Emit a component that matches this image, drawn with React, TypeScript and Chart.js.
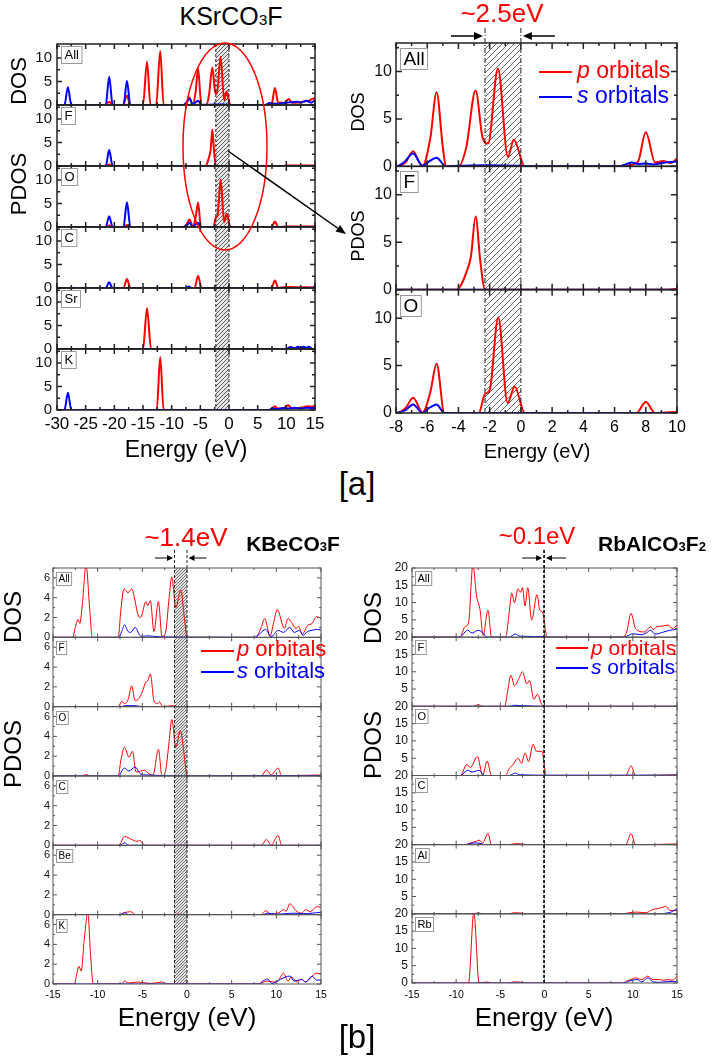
import React, { useEffect, useRef } from 'react';
import { Chart, registerables } from 'chart.js';
Chart.register(...registerables);

type Pt = [number, number];

const FONT = '"Liberation Sans", Arial, Helvetica, sans-serif';
const RED = '#ff0000';
const BLUE = '#0000ff';

// ---------- KSrCO3F (energy eV, DOS) ----------
const ksrAllP: Pt[] = [[-30,0],[-21.6,0],[-20.9,0.7],[-20.3,0],[-18.5,0],[-17.8,2.0],[-17.2,0],[-15.0,0],[-14.3,9.2],[-13.7,0],[-12.7,0],[-12.0,11.5],[-11.4,0],[-8.0,0],[-7.4,0.4],[-6.9,1.6],[-6.5,0.4],[-6.3,0.05],[-5.8,3.0],[-5.4,7.8],[-5.0,2.0],[-4.8,0],[-4.0,0],[-3.5,2.0],[-2.9,8.0],[-2.45,3.0],[-2.1,2.4],[-1.47,10.3],[-0.83,1.0],[-0.45,2.8],[0.25,0],[6.2,0],[6.8,0.1],[7.5,0.5],[8.0,3.6],[8.6,0.4],[9.1,0.55],[9.6,0.35],[10.4,1.3],[11.0,0.5],[11.8,0.5],[12.5,0.6],[13.3,0.8],[14.0,0.9],[14.5,1.3],[15,1.4]];
const ksrAllS: Pt[] = [[-30,0],[-28.7,0],[-28.1,3.8],[-27.5,0],[-21.5,0],[-20.9,6.0],[-20.3,0],[-18.4,0],[-17.8,5.1],[-17.2,0],[-8,0],[-7.5,0.4],[-6.9,1.35],[-6.3,0.05],[-5.9,0.5],[-5.4,0.9],[-4.8,0],[-4,0.05],[-2.3,0.12],[-1.5,0.1],[0,0.05],[0.3,0],[6.3,0],[7.1,0.4],[7.5,0.25],[8,0.3],[8.5,0.2],[9,0.35],[10,0.5],[11,0.6],[12,0.7],[12.5,0.5],[13.5,0.9],[14.3,0.5],[15,1.0]];
const ksrFP: Pt[] = [[-30,0],[-21.5,0],[-20.9,0.3],[-20.3,0],[-4.1,0],[-3.8,0.6],[-3.5,1.8],[-3.2,3.5],[-2.9,7.7],[-2.6,3.0],[-2.3,0],[9.5,0],[10,0.1],[15,0.1]];
const ksrFS: Pt[] = [[-30,0],[-21.5,0],[-20.9,3.4],[-20.3,0],[15,0]];
const ksrOP: Pt[] = [[-30,0],[-21.5,0],[-20.9,0.3],[-20.3,0],[-18.4,0],[-17.8,0.4],[-17.2,0],[-8,0],[-7.4,0.5],[-6.9,1.6],[-6.3,0.05],[-5.8,2.2],[-5.4,5.2],[-4.9,0],[-2.7,0],[-2.3,2.0],[-2.0,2.4],[-1.45,10.1],[-0.85,1.05],[-0.4,2.8],[0.25,0],[7.4,0],[8.0,1.15],[8.6,0],[10,0.1],[15,0.1]];
const ksrOS: Pt[] = [[-30,0],[-21.5,0],[-20.9,2.3],[-20.3,0],[-18.4,0],[-17.8,5.3],[-17.2,0],[-8,0],[-7.4,0.3],[-6.9,0.9],[-6.3,0],[-5.9,0.5],[-5.4,0.9],[-4.9,0],[15,0]];
const ksrCP: Pt[] = [[-30,0],[-18.4,0],[-17.8,1.9],[-17.2,0],[-6,0],[-5.4,2.6],[-4.8,0],[7.4,0],[8.0,1.6],[8.6,0],[10,0.2],[15,0.1]];
const ksrCS: Pt[] = [[-30,0],[-21.5,0],[-20.9,1.2],[-20.3,0],[-7.5,0],[-7,0.3],[-6.5,0],[14.5,0],[15,0.4]];
const ksrSrP: Pt[] = [[-30,0],[-15,0],[-14.3,8.7],[-13.6,0],[10.5,0],[11,0.3],[11.5,0],[12,0],[12.5,0.3],[13,0],[15,0]];
const ksrSrS: Pt[] = [[-30,0],[10,0],[10.7,0.4],[11.5,0.2],[12,0.5],[12.5,0.2],[13,0.5],[13.5,0.3],[14,0.5],[14.5,0],[15,0]];
const ksrKP: Pt[] = [[-30,0],[-12.6,0],[-12.0,11.3],[-11.4,0],[7,0],[7.5,0.3],[8,0.8],[8.5,0.3],[9.5,0.4],[10.3,1.0],[11,0.3],[12,0.4],[13,0.6],[13.8,0.8],[14.5,0.7],[15,1.0]];
const ksrKS: Pt[] = [[-30,0],[-28.7,0],[-28.1,3.7],[-27.5,0],[7,0],[7.5,0.3],[8.5,0.2],[9.5,0.4],[10.5,0.3],[11.5,0.5],[12.5,0.3],[13.5,0.5],[15,0.4]];

// ---------- KBeCO3F ----------
const kbeAllP: Pt[] = [[-15,0],[-12.8,0],[-12.5,1.0],[-12.2,1.8],[-12.0,1.4],[-11.7,3.5],[-11.3,7.3],[-10.9,3.0],[-10.6,0],[-7.7,0],[-7.4,2.8],[-7.05,4.9],[-6.6,4.5],[-6.2,4.9],[-5.8,3.6],[-5.5,2.3],[-5.2,2.0],[-4.6,3.6],[-4.4,3.2],[-4.1,3.7],[-3.7,0.6],[-3.2,3.6],[-2.8,0.1],[-2.4,0.5],[-2.0,4.0],[-1.7,6.1],[-1.25,3.0],[-0.7,4.8],[-0.3,2.0],[0,0],[7.7,0],[8.3,1.0],[8.7,1.9],[9.3,0.1],[9.7,1.5],[10.1,2.8],[10.9,0.9],[11.3,1.9],[11.7,1.5],[12.2,0.9],[12.5,1.1],[12.9,0.3],[13.5,1.2],[14.0,1.4],[14.5,2.1],[15,1.9]];
const kbeAllS: Pt[] = [[-15,0],[-7.7,0],[-7.3,0.6],[-7.0,1.25],[-6.6,0.6],[-6.3,0.5],[-5.8,1.0],[-5.3,0.2],[-5,0.1],[-4.5,0.15],[-3,0.05],[0,0.02],[7.5,0],[8.2,0.4],[8.8,0.8],[9.4,0.05],[10.2,0.7],[10.8,0.5],[11.5,1.0],[12.0,0.5],[12.6,0.7],[13.0,0.2],[13.5,0.6],[14.0,0.7],[14.5,0.8],[15,0.75]];
const kbeFP: Pt[] = [[-15,0],[-7.7,0],[-7.3,0.55],[-7.0,0.3],[-6.6,0.7],[-6.2,2.1],[-5.8,0.6],[-5.4,0.8],[-5.0,1.5],[-4.6,2.5],[-4.4,2.6],[-4.1,3.3],[-3.7,0.6],[-3.3,0.3],[-3.1,0.5],[-2.7,0],[-1.7,0.1],[-1,0],[15,0]];
const kbeFS: Pt[] = [[-15,0],[-7.3,0],[-7,0.1],[-5.8,0.1],[-5,0],[15,0]];
const kbeOP: Pt[] = [[-15,0],[-11.8,0],[-11.3,0.15],[-10.8,0],[-7.7,0],[-7.4,1.6],[-7.0,2.9],[-6.5,1.9],[-6.1,2.5],[-5.7,0.4],[-5.2,0.5],[-4.7,0.6],[-4.4,0.3],[-3.8,0.1],[-3.2,2.7],[-2.8,0.0],[-2.4,0.5],[-2.0,3.5],[-1.7,5.7],[-1.25,2.9],[-0.75,4.6],[-0.3,2.0],[0,0],[8.3,0],[8.9,0.6],[9.4,0.1],[10.2,0.8],[10.6,0],[12,0.05],[15,0.1]];
const kbeOS: Pt[] = [[-15,0],[-7.7,0],[-7.0,0.8],[-6.5,0.5],[-5.8,0.9],[-5.2,0.2],[-4.5,0.1],[-3,0.05],[0,0],[9,0.05],[11,0.05],[15,0.05]];
const kbeCP: Pt[] = [[-15,0],[-7.6,0],[-7.0,0.9],[-6.2,0.6],[-5.6,0.4],[-5.3,0.5],[-4.7,0],[8.3,0],[8.9,0.6],[9.4,0],[10.2,1.0],[10.6,0],[15,0]];
const kbeCS: Pt[] = [[-15,0],[-7.5,0],[-7.0,0.25],[-6.5,0],[15,0]];
const kbeBeP: Pt[] = [[-15,0],[-7.5,0],[-7.0,0.2],[-6.3,0.3],[-5.8,0],[-2,0],[-1,0.05],[0,0],[8.3,0],[8.8,0.4],[9.4,0.05],[10.3,0.2],[10.8,0.5],[11.1,0.35],[11.5,1.1],[12.2,0.4],[12.8,0.15],[13.3,0.5],[13.8,0.3],[14.5,0.8],[15,0.75]];
const kbeBeS: Pt[] = [[-15,0],[-7.5,0],[-7.0,0.2],[-6.5,0],[8.5,0],[9,0.15],[10,0.05],[11,0.1],[12,0.15],[13,0.1],[14,0.15],[15,0.25]];
const kbeKP: Pt[] = [[-15,0],[-12.6,0],[-12.3,1.2],[-12.1,1.8],[-11.85,1.3],[-11.5,4.5],[-11.1,7.2],[-10.8,3.0],[-10.5,0],[-7.3,0],[-7,0.3],[-6.6,0.1],[-5.5,0.2],[-4,0.05],[-2.8,0.2],[-2.4,0],[8,0],[9,0.3],[9.8,0.2],[10.2,0.3],[10.8,1.1],[11.3,0.3],[11.7,0.7],[12.3,0.2],[12.8,0.5],[13.3,0.2],[13.8,0.6],[14.5,1.1],[15,1.0]];
const kbeKS: Pt[] = [[-15,0],[8,0],[8.5,0.3],[9,0.5],[9.5,0.05],[10.5,0.5],[11.5,0.8],[12,0.3],[12.8,0.45],[13.3,0.2],[14,0.8],[14.5,0.4],[15,0.4]];

// ---------- RbAlCO3F2 ----------
const rbaAllP: Pt[] = [[-15,0],[-9.6,0],[-9.0,3.0],[-8.6,4.2],[-8.1,21],[-7.7,12],[-7.3,8],[-6.95,0.5],[-6.4,7.8],[-6.0,0],[-4.4,0],[-4.0,7],[-3.7,12.7],[-3.4,10],[-3.0,14],[-2.7,13],[-2.5,14.3],[-2.2,9],[-1.9,14.3],[-1.45,5],[-0.85,12.3],[-0.55,8],[-0.2,7],[0.3,0],[8.8,0],[9.3,1.5],[9.8,6.9],[10.3,2.5],[11.3,1.5],[12.0,3.0],[12.3,2.2],[12.7,3.0],[13.3,3.2],[14.0,3.5],[14.5,2.5],[15,3.5]];
const rbaAllS: Pt[] = [[-15,0],[-9.6,0],[-9.0,1.5],[-8.7,2.0],[-8.2,1.2],[-7.5,2.0],[-7.1,1.5],[-6.5,0],[-4,0],[-3.3,0.9],[-2.8,0.3],[-1,0.2],[0,0.2],[0.3,0],[8.8,0],[9.5,0.5],[10,1.0],[11,0.7],[11.5,1.2],[12,2.0],[12.5,0.9],[13.5,1.5],[14.2,2.0],[15,2.3]];
const rbaFP: Pt[] = [[-15,0],[-8,0],[-7.5,0.5],[-7,0],[-4.5,0],[-4.2,4],[-3.8,9],[-3.4,6],[-2.9,8],[-2.5,10],[-2.0,6.5],[-1.7,7.5],[-1.2,2],[-0.8,3.5],[-0.3,0.5],[0.1,0],[15,0]];
const rbaFS: Pt[] = [[-15,0],[-4,0],[-3.5,0.3],[-2.5,0.2],[0,0],[15,0]];
const rbaOP: Pt[] = [[-15,0],[-9.5,0],[-8.8,3.2],[-8.4,2.3],[-7.6,5.5],[-7.0,0],[-6.5,4.2],[-6.0,0],[-4.4,0],[-4.0,2.0],[-3.6,3.0],[-3.0,5.0],[-2.6,3.5],[-2.2,6.5],[-1.8,4.0],[-1.3,9.0],[-0.9,7.0],[-0.3,7.0],[0.2,0],[9.2,0],[9.8,2.8],[10.3,0],[15,0.2]];
const rbaOS: Pt[] = [[-15,0],[-9.5,0],[-8.7,1.5],[-8.2,1.0],[-7.4,1.5],[-6.8,0],[-4,0],[-3.3,0.7],[-2.8,0.2],[0,0.1],[15,0.1]];
const rbaCP: Pt[] = [[-15,0],[-9,0],[-8.5,0.4],[-7.7,1.0],[-7.4,1.3],[-7.0,0.5],[-6.4,3.2],[-6.0,0],[-4,0],[-3.3,0.3],[-2.5,0.2],[-2,0],[9.2,0],[9.8,3.2],[10.3,0],[15,0.2]];
const rbaCS: Pt[] = [[-15,0],[-9,0],[-8,0.5],[-7.3,0.4],[-6.8,0],[15,0]];
const rbaAlP: Pt[] = [[-15,0],[-8,0],[-7.5,0.3],[-7,0],[-4,0],[-3.5,0.3],[-2.5,0.2],[-2,0],[9,0],[9.5,0.3],[10.5,0.5],[11.5,0.3],[12,1.0],[12.7,1.5],[13.3,1.8],[13.7,2.2],[14.2,1.0],[15,1.0]];
const rbaAlS: Pt[] = [[-15,0],[13,0],[14,0.3],[14.5,0.7],[15,1.5]];
const rbaRbP: Pt[] = [[-15,0],[-8.6,0],[-8.0,20.4],[-7.4,0],[-6.5,0.3],[-6,0],[-4,0],[-3.5,0.3],[-2.5,0.2],[-2,0],[8.8,0],[9.3,0.5],[9.8,1.0],[10.3,1.5],[11,1.0],[11.7,2.0],[12.2,1.0],[13,1.0],[13.5,0.8],[14,1.0],[14.5,0.8],[15,2.0]];
const rbaRbS: Pt[] = [[-15,0],[9,0],[9.5,0.5],[10.5,1.0],[11,0.3],[11.7,1.5],[12.3,0.3],[13,0.2],[14.5,0.5],[15,0.3]];

// band gaps (eV)
const gapKSr: Pt = [-2.3, 0];
const gapKBe: Pt = [-1.4, 0];
const gapRbAl: Pt = [-0.1, 0];

interface Panel { label: string; p: Pt[]; s: Pt[]; }
interface Group {
  id: string;
  canvas: { x: number; y: number; w: number; h: number };
  plot: { l: number; t: number; r: number; b: number };
  yw: number; xh: number;
  xr: { min: number; max: number; step: number; minor: number };
  yr: { max: number; step: number; minor: number };
  panels: Panel[];
  lw: number;
  xFont: number; yFont: number; xPad: number; yPad: number;
  lab: { dx: number; dy: number; font: number; padX: number; h: number };
  gap: Pt;
  dash: number[];
  ext: number;
  arrow: null | { off: number; len: number; pad: number; hl: number; hw: number; lw: number };
  hatch: { sp: number; bg: string | null; col: string };
  frame: string; frameW: number; major: number; minor: number;
  hideZero: boolean;
}

const groups: Group[] = [
  {
    id: 'A', canvas: { x: 0, y: 30, w: 330, h: 412 }, plot: { l: 57, t: 43, r: 315, b: 410 }, yw: 45, xh: 28,
    xr: { min: -30, max: 15, step: 5, minor: 2.5 }, yr: { max: 13, step: 5, minor: 2.5 },
    panels: [
      { label: 'All', p: ksrAllP, s: ksrAllS }, { label: 'F', p: ksrFP, s: ksrFS }, { label: 'O', p: ksrOP, s: ksrOS },
      { label: 'C', p: ksrCP, s: ksrCS }, { label: 'Sr', p: ksrSrP, s: ksrSrS }, { label: 'K', p: ksrKP, s: ksrKS },
    ],
    lw: 2, xFont: 17, yFont: 15, xPad: 4, yPad: 5,
    lab: { dx: 4, dy: 2, font: 13, padX: 3, h: 17 },
    gap: gapKSr, dash: [3, 2], ext: 0, arrow: null,
    hatch: { sp: 4, bg: '#e8e8e8', col: '#333' },
    frame: '#222', frameW: 1.5, major: 5, minor: 3, hideZero: false,
  },
  {
    id: 'B', canvas: { x: 340, y: 20, w: 374, h: 424 }, plot: { l: 396, t: 43, r: 677, b: 413 }, yw: 40, xh: 27,
    xr: { min: -8, max: 10, step: 2, minor: 1 }, yr: { max: 13, step: 5, minor: 2.5 },
    panels: [
      { label: 'All', p: ksrAllP, s: ksrAllS }, { label: 'F', p: ksrFP, s: ksrFS }, { label: 'O', p: ksrOP, s: ksrOS },
    ],
    lw: 2, xFont: 16, yFont: 16, xPad: 5, yPad: 4,
    lab: { dx: 4, dy: 5, font: 19, padX: 3, h: 21 },
    gap: gapKSr, dash: [5, 2, 1, 2], ext: 15, arrow: { off: 7, len: 32, pad: 2, hl: 9, hw: 4, lw: 1.5 },
    hatch: { sp: 6, bg: null, col: '#444' },
    frame: '#222', frameW: 1.5, major: 6, minor: 3, hideZero: false,
  },
  {
    id: 'C', canvas: { x: 0, y: 545, w: 350, h: 461 }, plot: { l: 53, t: 568, r: 321, b: 984 }, yw: 40, xh: 18,
    xr: { min: -15, max: 15, step: 5, minor: 2.5 }, yr: { max: 7, step: 2, minor: 1 },
    panels: [
      { label: 'All', p: kbeAllP, s: kbeAllS }, { label: 'F', p: kbeFP, s: kbeFS }, { label: 'O', p: kbeOP, s: kbeOS },
      { label: 'C', p: kbeCP, s: kbeCS }, { label: 'Be', p: kbeBeP, s: kbeBeS }, { label: 'K', p: kbeKP, s: kbeKS },
    ],
    lw: 1, xFont: 10.5, yFont: 11, xPad: 5, yPad: 3,
    lab: { dx: 3, dy: 4, font: 10, padX: 2, h: 13 },
    gap: gapKBe, dash: [3, 2], ext: 18, arrow: { off: 10, len: 18, pad: 1.5, hl: 6, hw: 3, lw: 1 },
    hatch: { sp: 3, bg: '#e4e4e4', col: '#555' },
    frame: '#555', frameW: 1, major: 4, minor: 2, hideZero: false,
  },
  {
    id: 'D', canvas: { x: 355, y: 545, w: 359, h: 460 }, plot: { l: 412, t: 568, r: 677, b: 983 }, yw: 40, xh: 18,
    xr: { min: -15, max: 15, step: 5, minor: 2.5 }, yr: { max: 20, step: 5, minor: 2.5 },
    panels: [
      { label: 'All', p: rbaAllP, s: rbaAllS }, { label: 'F', p: rbaFP, s: rbaFS }, { label: 'O', p: rbaOP, s: rbaOS },
      { label: 'C', p: rbaCP, s: rbaCS }, { label: 'Al', p: rbaAlP, s: rbaAlS }, { label: 'Rb', p: rbaRbP, s: rbaRbS },
    ],
    lw: 1, xFont: 10.5, yFont: 12, xPad: 6, yPad: 4,
    lab: { dx: 3, dy: 3, font: 11, padX: 2, h: 14 },
    gap: gapRbAl, dash: [3, 2], ext: 18, arrow: { off: 10, len: 20, pad: 1.5, hl: 6, hw: 3, lw: 1 },
    hatch: { sp: 3, bg: '#e4e4e4', col: '#555' },
    frame: '#555', frameW: 1, major: 4, minor: 2, hideZero: true,
  },
];

function makeHatch(ctx: CanvasRenderingContext2D, sp: number, bg: string | null, col: string) {
  const c = document.createElement('canvas');
  c.width = sp; c.height = sp;
  const g = c.getContext('2d')!;
  if (bg) { g.fillStyle = bg; g.fillRect(0, 0, sp, sp); }
  g.strokeStyle = col; g.lineWidth = 0.8;
  g.beginPath();
  g.moveTo(0, sp); g.lineTo(sp, 0);
  g.moveTo(-1, 1); g.lineTo(1, -1);
  g.moveTo(sp - 1, sp + 1); g.lineTo(sp + 1, sp - 1);
  g.stroke();
  return ctx.createPattern(c, 'repeat');
}

function buildConfig(g: Group): any {
  const n = g.panels.length;
  const datasets: any[] = [];
  g.panels.forEach((pn, i) => {
    datasets.push({
      label: pn.label + ' p', data: pn.p.map(([x, y]) => ({ x, y })), yAxisID: 'y' + i, xAxisID: 'x',
      borderColor: RED, borderWidth: g.lw, pointRadius: 0, fill: false, cubicInterpolationMode: 'monotone', order: 1,
    });
    datasets.push({
      label: pn.label + ' s', data: pn.s.map(([x, y]) => ({ x, y })), yAxisID: 'y' + i, xAxisID: 'x',
      borderColor: BLUE, borderWidth: g.lw, pointRadius: 0, fill: false, cubicInterpolationMode: 'monotone', order: 0,
    });
  });
  const scales: any = {
    x: {
      type: 'linear', position: 'bottom', min: g.xr.min, max: g.xr.max,
      afterFit: (s: any) => { s.height = g.xh; },
      grid: { display: false, drawTicks: false }, border: { display: false },
      ticks: {
        stepSize: g.xr.step, autoSkip: false, maxRotation: 0, minRotation: 0, includeBounds: false,
        padding: g.xPad, color: '#000', font: { family: FONT, size: g.xFont },
        callback: (v: any) => String(v),
      },
    },
  };
  g.panels.forEach((_pn, i) => {
    scales['y' + i] = {
      type: 'linear', position: 'left', stack: 'dos' + g.id, stackWeight: 1, weight: n - i,
      min: 0, max: g.yr.max,
      afterFit: (s: any) => { s.width = g.yw; },
      grid: { display: false, drawTicks: false }, border: { display: false },
      ticks: {
        stepSize: g.yr.step, autoSkip: false, includeBounds: false, padding: g.yPad,
        color: '#111', font: { family: FONT, size: g.yFont },
        callback: (v: any) => (g.hideZero && i < n - 1 && Number(v) === 0 ? '' : String(v)),
      },
    };
  });
  const cw = g.canvas.w, ch = g.canvas.h;
  const padding = {
    left: g.plot.l - g.canvas.x - g.yw,
    top: g.plot.t - g.canvas.y,
    right: g.canvas.x + cw - g.plot.r,
    bottom: g.canvas.y + ch - g.plot.b - g.xh,
  };
  const deco = {
    id: 'deco' + g.id,
    beforeDatasetsDraw(chart: any) {
      const { ctx, chartArea } = chart;
      const xs = chart.scales.x;
      const x0 = xs.getPixelForValue(g.gap[0]);
      const x1 = xs.getPixelForValue(g.gap[1]);
      ctx.save();
      ctx.fillStyle = makeHatch(ctx, g.hatch.sp, g.hatch.bg, g.hatch.col);
      ctx.fillRect(x0, chartArea.top, x1 - x0, chartArea.bottom - chartArea.top);
      ctx.restore();
    },
    afterDatasetsDraw(chart: any) {
      const { ctx, chartArea } = chart;
      const xs = chart.scales.x;
      const L = chartArea.left, R = chartArea.right;
      ctx.save();
      ctx.strokeStyle = g.frame;
      ctx.lineWidth = g.frameW;
      g.panels.forEach((_pn, i) => {
        const ys = chart.scales['y' + i];
        const T = ys.top, B = ys.bottom;
        ctx.beginPath();
        const ny = Math.round(g.yr.max / g.yr.minor);
        for (let k = 0; k <= ny; k++) {
          const v = k * g.yr.minor;
          if (v > g.yr.max) break;
          const r = v / g.yr.step;
          const len = Math.abs(r - Math.round(r)) < 1e-6 ? g.major : g.minor;
          const py = ys.getPixelForValue(v);
          ctx.moveTo(L, py); ctx.lineTo(L + len, py);
          ctx.moveTo(R, py); ctx.lineTo(R - len, py);
        }
        const nx = Math.round((g.xr.max - g.xr.min) / g.xr.minor);
        for (let k = 0; k <= nx; k++) {
          const v = g.xr.min + k * g.xr.minor;
          const r = (v - g.xr.min) / g.xr.step;
          const len = Math.abs(r - Math.round(r)) < 1e-6 ? g.major : g.minor;
          const px = xs.getPixelForValue(v);
          ctx.moveTo(px, B); ctx.lineTo(px, B - len);
          ctx.moveTo(px, T); ctx.lineTo(px, T + len);
        }
        ctx.stroke();
        ctx.strokeRect(L, T, R - L, B - T);
      });
      // gap lines
      const gx = [xs.getPixelForValue(g.gap[0]), xs.getPixelForValue(g.gap[1])];
      ctx.strokeStyle = '#222';
      ctx.lineWidth = 1;
      ctx.setLineDash(g.dash);
      gx.forEach((x) => {
        ctx.beginPath();
        ctx.moveTo(x, chartArea.top - g.ext);
        ctx.lineTo(x, chartArea.bottom);
        ctx.stroke();
      });
      ctx.setLineDash([]);
      if (g.arrow) {
        const a = g.arrow;
        const ay = chartArea.top - a.off;
        ctx.strokeStyle = '#000';
        ctx.fillStyle = '#000';
        ctx.lineWidth = a.lw;
        const draw = (from: number, to: number) => {
          const dir = Math.sign(to - from);
          ctx.beginPath();
          ctx.moveTo(from, ay); ctx.lineTo(to - dir * a.hl * 0.8, ay);
          ctx.stroke();
          ctx.beginPath();
          ctx.moveTo(to, ay);
          ctx.lineTo(to - dir * a.hl, ay - a.hw);
          ctx.lineTo(to - dir * a.hl, ay + a.hw);
          ctx.closePath();
          ctx.fill();
        };
        draw(gx[0] - a.pad - a.len, gx[0] - a.pad);
        draw(gx[1] + a.pad + a.len, gx[1] + a.pad);
      }
      // panel labels
      ctx.font = `${g.lab.font}px ${FONT}`;
      ctx.textBaseline = 'middle';
      ctx.textAlign = 'left';
      g.panels.forEach((pn, i) => {
        const ys = chart.scales['y' + i];
        const w = ctx.measureText(pn.label).width + 2 * g.lab.padX;
        const bx = Math.round(L + g.lab.dx) + 0.5;
        const by = Math.round(ys.top + g.lab.dy) + 0.5;
        ctx.fillStyle = '#fff';
        ctx.fillRect(bx, by, w, g.lab.h);
        ctx.strokeStyle = '#9a9a9a';
        ctx.lineWidth = 1;
        ctx.strokeRect(bx, by, w, g.lab.h);
        ctx.fillStyle = '#000';
        ctx.fillText(pn.label, bx + g.lab.padX, by + g.lab.h / 2 + 0.5);
      });
      ctx.restore();
    },
  };
  return {
    type: 'line',
    data: { datasets },
    options: {
      animation: false, responsive: false, devicePixelRatio: 1,
      layout: { padding, autoPadding: false },
      plugins: { legend: { display: false }, tooltip: { enabled: false }, title: { display: false } },
      scales,
      elements: { line: { borderCapStyle: 'round', borderJoinStyle: 'round' } },
    },
    plugins: [deco],
  };
}

function GroupChart({ g }: { g: Group }) {
  const ref = useRef<HTMLCanvasElement>(null);
  useEffect(() => {
    const chart = new Chart(ref.current!, buildConfig(g));
    return () => chart.destroy();
  }, [g]);
  return (
    <canvas ref={ref} width={g.canvas.w} height={g.canvas.h}
      style={{ position: 'absolute', left: g.canvas.x, top: g.canvas.y, width: g.canvas.w, height: g.canvas.h }} />
  );
}

function Txt(props: { x: number; y: number; size: number; color?: string; bold?: boolean; rotate?: boolean; children: any }) {
  const { x, y, size, color = '#000', bold = false, rotate = false, children } = props;
  return (
    <div style={{
      position: 'absolute', left: x, top: y, fontSize: size, lineHeight: 1, fontFamily: FONT, color,
      fontWeight: bold ? 'bold' : 'normal', whiteSpace: 'nowrap',
      transform: `translate(-50%,-50%)${rotate ? ' rotate(-90deg)' : ''}`,
    }}>{children}</div>
  );
}

function LegendItem(props: { x1: number; x2: number; ly: number; tx: number; base: number; size: number; color: string; sym: string; lw: number }) {
  const { x1, x2, ly, tx, base, size, color, sym, lw } = props;
  return (
    <>
      <div style={{ position: 'absolute', left: x1, top: ly - lw / 2, width: x2 - x1, height: lw, background: color }} />
      <div style={{ position: 'absolute', left: tx, top: base - 0.8465 * size, fontSize: size, lineHeight: 1, fontFamily: FONT, color, whiteSpace: 'nowrap' }}>
        <i>{sym}</i> orbitals
      </div>
    </>
  );
}

const sub = { fontSize: '0.62em' };

export default function App() {
  // arrow from zoom ellipse to right panel
  const ax1 = 228, ay1 = 151, ax2 = 346, ay2 = 234;
  const dl = Math.hypot(ax2 - ax1, ay2 - ay1);
  const ux = (ax2 - ax1) / dl, uy = (ay2 - ay1) / dl;
  const hb = [ax2 - 10 * ux, ay2 - 10 * uy];
  const head = `${ax2},${ay2} ${hb[0] - 4 * uy},${hb[1] + 4 * ux} ${hb[0] + 4 * uy},${hb[1] - 4 * ux}`;
  return (
    <div style={{ position: 'absolute', left: 0, top: 0, width: 714, height: 1057, overflow: 'hidden', background: '#fff' }}>
      {groups.map((g) => <GroupChart key={g.id} g={g} />)}

      <Txt x={231} y={16} size={25}>KSrCO<span style={sub}>3</span>F</Txt>
      <Txt x={19} y={81} size={22} rotate>DOS</Txt>
      <Txt x={19} y={184} size={22} rotate>PDOS</Txt>
      <Txt x={186} y={449} size={23}>Energy (eV)</Txt>

      <Txt x={502} y={13} size={26} color={RED}>~2.5eV</Txt>
      <Txt x={358} y={112} size={18} rotate>DOS</Txt>
      <Txt x={358} y={236} size={18} rotate>PDOS</Txt>
      <Txt x={537} y={451} size={20}>Energy (eV)</Txt>
      <LegendItem x1={539} x2={572} ly={72} tx={577} base={78} size={23} color={RED} sym="p" lw={2} />
      <LegendItem x1={539} x2={572} ly={97} tx={577} base={103} size={23} color={BLUE} sym="s" lw={2} />
      <Txt x={357} y={483} size={33}>[a]</Txt>

      <Txt x={186} y={537} size={26} color={RED}>~1.4eV</Txt>
      <Txt x={293} y={543} size={21} bold>KBeCO<span style={sub}>3</span>F</Txt>
      <Txt x={13} y={617} size={24} rotate>DOS</Txt>
      <Txt x={13} y={754} size={24} rotate>PDOS</Txt>
      <Txt x={187} y={1017} size={26}>Energy (eV)</Txt>
      <LegendItem x1={201} x2={234} ly={651} tx={237} base={657} size={22} color={RED} sym="p" lw={1.2} />
      <LegendItem x1={201} x2={234} ly={672} tx={237} base={679} size={22} color={BLUE} sym="s" lw={1.2} />

      <Txt x={537} y={536} size={24} color={RED}>~0.1eV</Txt>
      <Txt x={652} y={543} size={21} bold>RbAlCO<span style={sub}>3</span>F<span style={sub}>2</span></Txt>
      <Txt x={373} y={618} size={24} rotate>DOS</Txt>
      <Txt x={373} y={745} size={24} rotate>PDOS</Txt>
      <Txt x={544} y={1017} size={26}>Energy (eV)</Txt>
      <LegendItem x1={556} x2={588} ly={648} tx={591} base={655} size={21} color={RED} sym="p" lw={1.2} />
      <LegendItem x1={556} x2={588} ly={668} tx={591} base={674} size={21} color={BLUE} sym="s" lw={1.2} />
      <Txt x={357} y={1036} size={33}>[b]</Txt>

      <svg width={714} height={1057} style={{ position: 'absolute', left: 0, top: 0, pointerEvents: 'none' }}>
        <ellipse cx={225} cy={146.5} rx={42} ry={103.5} fill="none" stroke={RED} strokeWidth={1.5} />
        <line x1={ax1} y1={ay1} x2={hb[0]} y2={hb[1]} stroke="#000" strokeWidth={1.5} />
        <polygon points={head} fill="#000" />
      </svg>
    </div>
  );
}
